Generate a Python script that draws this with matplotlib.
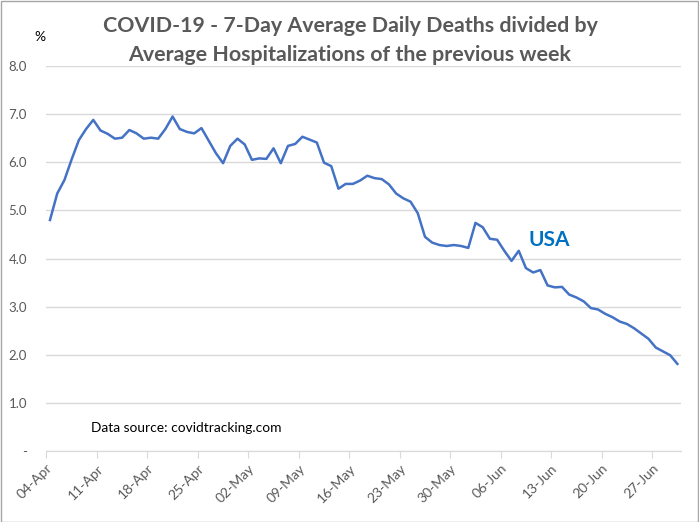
import matplotlib
matplotlib.use("Agg")
import matplotlib.pyplot as plt
from matplotlib.patches import Rectangle

# -------------------------
# DATA (04-Apr .. 30-Jun, one value per day, %)
# -------------------------
ratio_pct = [
    4.80, 5.35, 5.63, 6.06, 6.46, 6.69, 6.88,
    6.66, 6.59, 6.49, 6.51, 6.67, 6.60, 6.49,
    6.51, 6.49, 6.69, 6.95, 6.69, 6.63, 6.60,
    6.71, 6.45, 6.19, 5.98, 6.34, 6.49, 6.37,
    6.05, 6.08, 6.07, 6.29, 5.98, 6.34, 6.38,
    6.53, 6.47, 6.41, 5.99, 5.92, 5.45, 5.55,
    5.55, 5.62, 5.72, 5.67, 5.65, 5.54, 5.35,
    5.25, 5.18, 4.94, 4.45, 4.33, 4.28, 4.26,
    4.28, 4.26, 4.22, 4.74, 4.65, 4.41, 4.39,
    4.16, 3.95, 4.16, 3.80, 3.71, 3.76, 3.44,
    3.40, 3.41, 3.25, 3.19, 3.11, 2.97, 2.94,
    2.85, 2.78, 2.69, 2.64, 2.55, 2.44, 2.33,
    2.15, 2.07, 1.99, 1.81,
]
week_labels = ["04-Apr", "11-Apr", "18-Apr", "25-Apr", "02-May", "09-May",
               "16-May", "23-May", "30-May", "06-Jun", "13-Jun", "20-Jun",
               "27-Jun"]
y_ticks = [0, 1, 2, 3, 4, 5, 6, 7, 8]
y_labels = ["-", "1.0", "2.0", "3.0", "4.0", "5.0", "6.0", "7.0", "8.0"]

days = list(range(len(ratio_pct)))

plt.rcParams["font.family"] = ["Lato", "DejaVu Sans"]
GREY = "#595959"
W, H = 699, 522

fig = plt.figure(figsize=(W / 100, H / 100), dpi=100)
ax = fig.add_axes([46.4 / W, 1 - 451 / H, (681 - 46.4) / W, (451 - 66) / H])

ax.plot(days, ratio_pct, color="#4472C4", lw=1.8, solid_joinstyle="round")

ax.set_ylim(0, 8)
ax.set_xlim(-0.5, len(days) - 0.5)
ax.set_yticks(y_ticks)
ax.set_yticklabels(y_labels)
ax.set_xticks([-0.5 + 7 * k for k in range(len(week_labels))])
ax.set_xticklabels(week_labels, rotation=45, ha="right", va="top",
                   rotation_mode="anchor")

ax.grid(axis="y", color="#d9d9d9", lw=1)
ax.set_axisbelow(True)
for s in ["top", "right", "left"]:
    ax.spines[s].set_visible(False)
ax.spines["bottom"].set_color("#d9d9d9")
ax.tick_params(axis="y", length=0, labelsize=9.5, labelcolor=GREY, pad=14)
ax.tick_params(axis="x", length=5, color="#d9d9d9", labelsize=10,
               labelcolor=GREY, pad=3)

# titles / annotations
fig.text(350 / W, 1 - 26 / H,
         "COVID-19 - 7-Day Average Daily Deaths divided by",
         ha="center", va="center", fontsize=15.4, fontweight="bold", color=GREY)
fig.text(350 / W, 1 - 55 / H,
         "Average Hospitalizations of the previous week",
         ha="center", va="center", fontsize=15.4, fontweight="bold", color=GREY)
fig.text(40 / W, 1 - 37 / H, "%", ha="center", va="center",
         fontsize=10, color="black")
fig.text(549 / W, 1 - 240 / H, "USA", ha="center", va="center",
         fontsize=15, fontweight="bold", color="#0070C0")
fig.text(91 / W, 1 - 428 / H, "Data source: covidtracking.com",
         ha="left", va="center", fontsize=9.9, color="black")

fig.patches.append(Rectangle((0.5 / W, 0.5 / H), 1 - 1.5 / W, 1 - 1.5 / H,
                             transform=fig.transFigure, fill=False,
                             edgecolor="#a6a6a6", lw=1))

fig.savefig("out.png", dpi=100)
